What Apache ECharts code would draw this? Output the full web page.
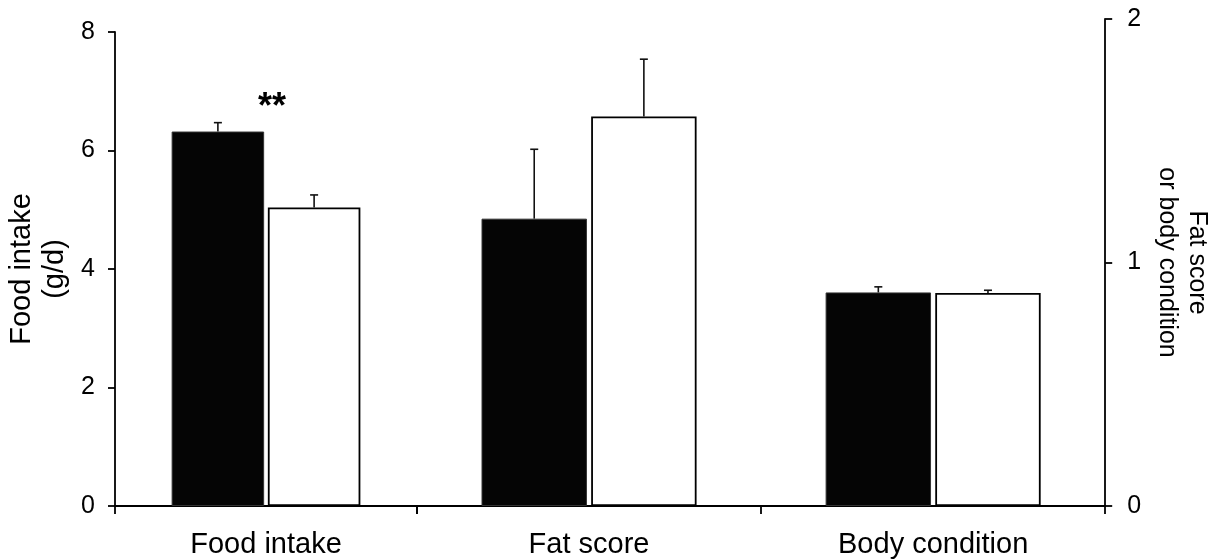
<!DOCTYPE html>
<html>
<head>
<meta charset="utf-8">
<script src="https://cdn.jsdelivr.net/npm/echarts@6/dist/echarts.min.js"></script>
<style>
  html, body { margin: 0; padding: 0; background: #fff; }
  #chart { width: 1220px; height: 559px; }
</style>
</head>
<body>
<div id="chart"></div>
<script>
// categories (first on left axis, the other two on right axis)
var categories = ['Food intake', 'Fat score', 'Body condition'];
var blackMean = [6.32, 1.18, 0.877];
var blackSE = [0.15, 0.285, 0.023];
var whiteMean = [5.04, 1.60, 0.875];
var whiteSE = [0.21, 0.235, 0.011];
var leftTicks = [0, 2, 4, 6, 8];
var rightTicks = [0, 1, 2];

var FONT = 'Liberation Sans, Arial, sans-serif';
var chart = echarts.init(document.getElementById('chart'));

// error bar drawn only upward, on the side of its bar
function renderErr(params, api) {
  var x = api.value(0), m = api.value(1), se = api.value(2), side = api.value(3);
  var band = api.size([1, 0])[0];
  var barW = band * 0.625 / 2.04;
  var off = side * (barW / 2 + barW * 0.02);
  var p0 = api.coord([x, m]);
  var p1 = api.coord([x, m + se]);
  var cx = p0[0] + off;
  var st = { stroke: '#111', lineWidth: 1.6 };
  return {
    type: 'group',
    children: [
      { type: 'line', shape: { x1: cx, y1: p0[1], x2: cx, y2: p1[1] }, style: st },
      { type: 'line', shape: { x1: cx - 4, y1: p1[1], x2: cx + 4, y2: p1[1] }, style: st }
    ]
  };
}

function errData(from, to) {
  var out = [];
  for (var i = from; i < to; i++) {
    out.push([i - from, blackMean[i], blackSE[i], -1]);
    out.push([i - from, whiteMean[i], whiteSE[i], 1]);
  }
  return out;
}

var lineSt = { color: '#000', width: 1.8 };
var tick = { show: true, inside: false, length: 8, lineStyle: lineSt };

var option = {
  backgroundColor: '#fff',
  animation: false,
  grid: [
    { left: 115, right: 803, top: 32, bottom: 52 },
    { left: 417, right: 108, top: 19, bottom: 52 }
  ],
  xAxis: [
    {
      type: 'category', gridIndex: 0, data: categories.slice(0, 1),
      axisLine: { show: true, lineStyle: lineSt }, axisTick: tick,
      axisLabel: { color: '#000', fontSize: 29, fontFamily: FONT, margin: 24 }
    },
    {
      type: 'category', gridIndex: 1, data: categories.slice(1),
      axisLine: { show: true, lineStyle: lineSt }, axisTick: tick,
      axisLabel: { color: '#000', fontSize: 29, fontFamily: FONT, margin: 24 }
    }
  ],
  yAxis: [
    {
      type: 'value', gridIndex: 0, position: 'left',
      min: leftTicks[0], max: leftTicks[leftTicks.length - 1], interval: 2,
      name: 'Food intake\n(g/d)', nameLocation: 'middle', nameGap: 44,
      nameTextStyle: { color: '#000', fontSize: 29, fontFamily: FONT, lineHeight: 33 },
      axisLine: { show: true, lineStyle: lineSt },
      axisTick: { show: true, inside: false, length: 7, lineStyle: lineSt },
      splitLine: { show: false },
      axisLabel: { color: '#000', fontSize: 25, fontFamily: FONT, margin: 20 }
    },
    {
      type: 'value', gridIndex: 1, position: 'right',
      min: rightTicks[0], max: rightTicks[rightTicks.length - 1], interval: 1,
      name: 'Fat score\nor body condition', nameLocation: 'middle', nameGap: 44, nameRotate: -90,
      nameTextStyle: { color: '#000', fontSize: 25, fontFamily: FONT, lineHeight: 30 },
      axisLine: { show: true, lineStyle: lineSt },
      axisTick: { show: true, inside: false, length: 7, lineStyle: lineSt },
      splitLine: { show: false },
      axisLabel: { color: '#000', fontSize: 25, fontFamily: FONT, margin: 22 }
    }
  ],
  series: [
    {
      type: 'bar', xAxisIndex: 0, yAxisIndex: 0,
      data: blackMean.slice(0, 1), barCategoryGap: '37.5%', barGap: '4%',
      itemStyle: { color: '#050505', borderColor: '#333', borderWidth: 1 },
      markPoint: {
        symbol: 'circle', symbolSize: 0,
        label: { show: true, formatter: '**', color: '#000', fontSize: 36, fontWeight: 'bold', fontFamily: FONT, offset: [54, 0] },
        data: [{ coord: [0, 6.72] }]
      }
    },
    {
      type: 'bar', xAxisIndex: 0, yAxisIndex: 0,
      data: whiteMean.slice(0, 1), barCategoryGap: '37.5%', barGap: '4%',
      itemStyle: { color: '#fff', borderColor: '#000', borderWidth: 1.8 }
    },
    {
      type: 'bar', xAxisIndex: 1, yAxisIndex: 1,
      data: blackMean.slice(1), barCategoryGap: '37.5%', barGap: '4%',
      itemStyle: { color: '#050505', borderColor: '#333', borderWidth: 1 }
    },
    {
      type: 'bar', xAxisIndex: 1, yAxisIndex: 1,
      data: whiteMean.slice(1), barCategoryGap: '37.5%', barGap: '4%',
      itemStyle: { color: '#fff', borderColor: '#000', borderWidth: 1.8 }
    },
    {
      type: 'custom', xAxisIndex: 0, yAxisIndex: 0, renderItem: renderErr,
      data: errData(0, 1), z: 5
    },
    {
      type: 'custom', xAxisIndex: 1, yAxisIndex: 1, renderItem: renderErr,
      data: errData(1, 3), z: 5
    }
  ]
};

chart.setOption(option);
</script>
</body>
</html>
